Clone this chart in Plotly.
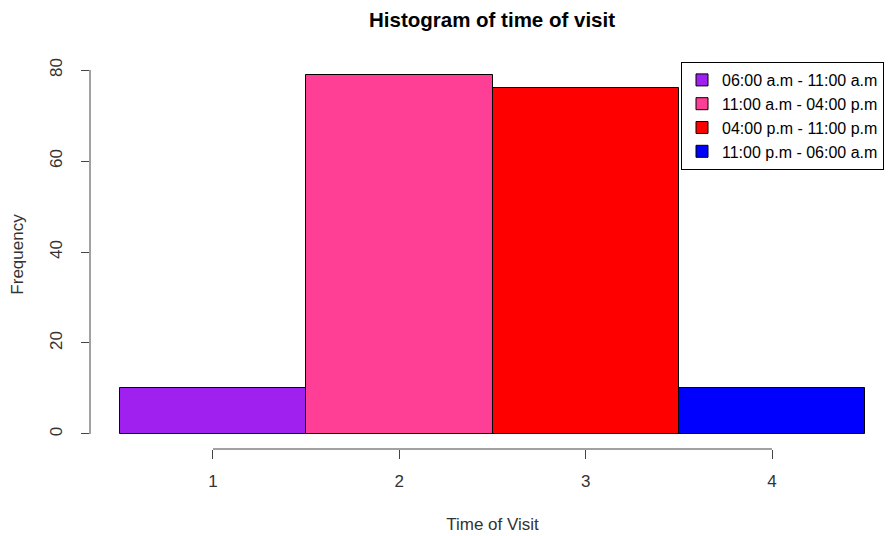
import plotly.graph_objects as go

categories = [1, 2, 3, 4]
frequencies = [10, 79, 76, 10]
labels = ["06:00 a.m - 11:00 a.m", "11:00 a.m - 04:00 p.m",
          "04:00 p.m - 11:00 p.m", "11:00 p.m - 06:00 a.m"]
colors = ["#A020F0", "#FF3E96", "#FF0000", "#0000FF"]
x_ticks = [1, 2, 3, 4]
y_ticks = [0, 20, 40, 60, 80]

# page body adds an 8px offset; figure is sized to fit the window
OFF = 8
W, H = 895 - OFF, 536 - OFF
left, right = 90 - OFF, 0
top = 60 - OFF
plot_bottom = 449 - OFF
bottom = H - plot_bottom

fig = go.Figure()
for c, f, lab, col in zip(categories, frequencies, labels, colors):
    fig.add_trace(go.Bar(
        x=[c], y=[f], width=1, name=lab,
        marker=dict(color=col, line=dict(color="black", width=1)),
    ))

font = "Liberation Sans, Arial, sans-serif"
fs = 17
plot_w = W - left - right
fig.update_layout(
    width=W, height=H,
    margin=dict(l=left, r=right, t=top, b=bottom, pad=0, autoexpand=False),
    paper_bgcolor="white", plot_bgcolor="white",
    font=dict(family=font, size=fs, color="#333333"),
    title=dict(text="<b>Histogram of time of visit</b>", x=(492 - OFF) / W, xanchor="center",
               y=1 - (20 - OFF) / H, yanchor="middle", font=dict(size=20.5, color="black")),
    barmode="overlay", bargap=0,
    showlegend=True,
    legend=dict(x=(681 - 90) / plot_w, y=1 - (62 - 60) / (plot_bottom - top),
                xanchor="left", yanchor="top",
                bordercolor="black", borderwidth=1, bgcolor="white",
                font=dict(size=16, color="black"), tracegroupgap=0,
                itemwidth=30),
    xaxis=dict(range=[0.34, 4.66], tickvals=x_ticks, ticktext=[str(t) for t in x_ticks],
               ticks="outside", ticklen=9, tickcolor="#444", tickwidth=1,
               showgrid=False, zeroline=False, showline=False, automargin=False,
               ticklabelstandoff=8,
               title=dict(text="Time of Visit", standoff=27, font=dict(size=fs, color="#333")),
               tickfont=dict(size=fs, color="#333")),
    yaxis=dict(range=[-3.3, 82.2], tickvals=y_ticks, ticktext=[str(t) for t in y_ticks],
               ticks="outside", ticklen=8, tickcolor="#444", tickwidth=1, tickangle=-90,
               showgrid=False, zeroline=False, showline=False, automargin=False,
               ticklabelstandoff=12,
               title=dict(text="Frequency", standoff=20, font=dict(size=fs, color="#333")),
               tickfont=dict(size=fs, color="#333")),
    shapes=[
        dict(type="line", xref="paper", yref="y", x0=0, x1=0, y0=y_ticks[0], y1=y_ticks[-1],
             line=dict(color="#444", width=1)),
        dict(type="line", xref="x", yref="paper", x0=x_ticks[0], x1=x_ticks[-1], y0=0, y1=0,
             line=dict(color="#444", width=1)),
    ],
)
fig.write_html("out.html")
